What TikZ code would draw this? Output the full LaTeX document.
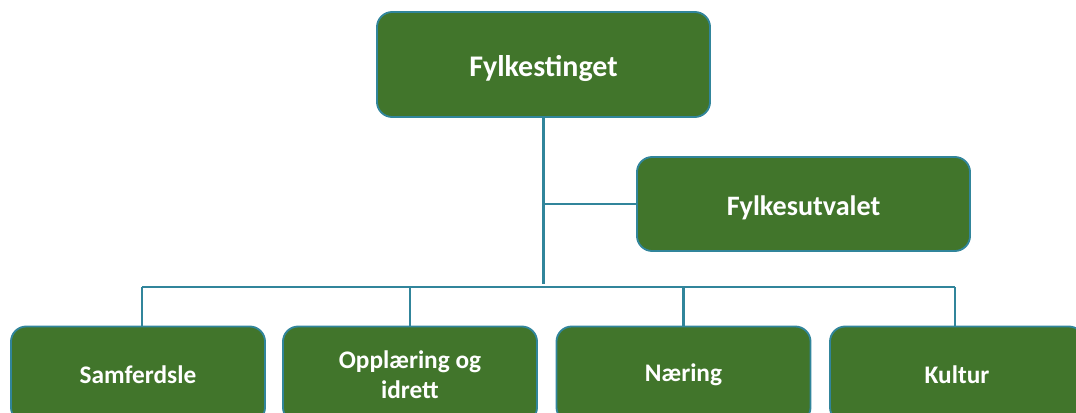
\documentclass[tikz,border=0pt]{standalone}
\usepackage{fontspec}
\setmainfont{Carlito}
\usetikzlibrary{positioning}

\definecolor{orggreen}{RGB}{65,117,43}
\definecolor{orgline}{RGB}{49,133,155}

\tikzset{
  unitbox/.style={draw=orgline, fill=orggreen, line width=1.3pt, rounded corners=0.38cm,
    text=white, font=\bfseries\fontsize{20}{23}\selectfont, align=center,
    minimum width=8.325cm, inner sep=2pt},
  subbox/.style={unitbox, minimum width=6.35cm, minimum height=2.4cm,
    font=\bfseries\fontsize{18}{21}\selectfont},
  orgedge/.style={draw=orgline, line width=1.5pt}
}

\begin{document}
\begin{tikzpicture}[x=0.025cm, y=-0.025cm]
  \useasboundingbox (0,0) rectangle (1076,413);

  % Top level
  \node [unitbox, minimum height=2.625cm, font=\bfseries\fontsize{21.3}{24}\selectfont,
    text height=0.78cm, text depth=0.17cm] (ting) at (543.5,64.5) {Fylkestinget};
  \node [unitbox, minimum height=2.35cm, text height=0.75cm, text depth=0.16cm]
    (utval) at (803.5,204) {Fylkesutvalet};

  % Committees
  \node [subbox] (samf) at (138,374.5) {Samferdsle};
  \node [subbox] (oppl) at (410,374.5) {Opplæring og\\idrett};
  \node [subbox] (naer) at (683.5,374.5) {Næring};
  \node [subbox] (kult) at (957,374.5) {Kultur};

  % Bus line
  \coordinate (busl) at (142,287);
  \coordinate (busr) at (955,287);
  \coordinate (trunk) at (ting.south |- 0,284);

  % Drawing connectors
  \draw [orgedge] (ting.south) -- (trunk);
  \draw [orgedge] (utval.west) -- (utval.west -| ting.south);
  \draw [orgedge] (busl) -- (busr);
  \draw [orgedge] (busl) -- (busl |- samf.north);
  \draw [orgedge] (oppl.north |- busl) -- (oppl.north);
  \draw [orgedge] (naer.north |- busl) -- (naer.north);
  \draw [orgedge] (busr) -- (busr |- kult.north);
\end{tikzpicture}
\end{document}
